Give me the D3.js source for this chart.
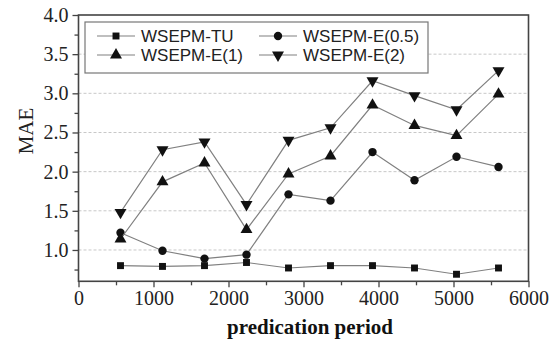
<!DOCTYPE html>
<html>
<head>
<meta charset="utf-8">
<script src="https://cdn.jsdelivr.net/npm/d3@7"></script>
<style>
  body { margin: 0; background: #fff; }
  svg { display: block; }
</style>
</head>
<body>
<div id="chart"></div>
<script>
// chart values
const periods = [560, 1120, 1680, 2240, 2800, 3360, 3920, 4480, 5040, 5600];
const tu     = [0.80, 0.79, 0.80, 0.84, 0.77, 0.80, 0.80, 0.77, 0.69, 0.77];
const e05    = [1.22, 0.99, 0.89, 0.94, 1.71, 1.63, 2.25, 1.89, 2.19, 2.06];
const e1     = [1.14, 1.87, 2.11, 1.26, 1.97, 2.20, 2.85, 2.59, 2.46, 2.99];
const e2     = [1.48, 2.28, 2.38, 1.58, 2.40, 2.56, 3.16, 2.97, 2.79, 3.29];
const seriesNames = ['WSEPM-TU', 'WSEPM-E(0.5)', 'WSEPM-E(1)', 'WSEPM-E(2)'];
const xTicks = [0, 1000, 2000, 3000, 4000, 5000, 6000];
const yTicks = [1.0, 1.5, 2.0, 2.5, 3.0, 3.5, 4.0];

const width = 557, height = 344;
const margin = {top: 15, right: 28.5, bottom: 62.7, left: 78.5};

const svg = d3.select('#chart').append('svg')
    .attr('width', width)
    .attr('height', height);

const x = d3.scaleLinear()
    .domain([0, 6000])
    .range([margin.left, width - margin.right]);

const y = d3.scaleLinear()
    .domain([0.6, 4.0])
    .range([height - margin.bottom, margin.top]);

const series = [
  {name: seriesNames[0], values: tu,  symbol: d3.symbolSquare,   size: 48, rot: 0},
  {name: seriesNames[1], values: e05, symbol: d3.symbolCircle,   size: 55, rot: 0},
  {name: seriesNames[2], values: e1,  symbol: d3.symbolTriangle, size: 62, rot: 0},
  {name: seriesNames[3], values: e2,  symbol: d3.symbolTriangle, size: 62, rot: 180}
];

// grid
svg.append('g')
    .attr('class', 'grid')
  .selectAll('line')
    .data(yTicks.filter(d => d < 4))
  .enter().append('line')
    .attr('x1', x(0))
    .attr('x2', x(6000))
    .attr('y1', d => y(d))
    .attr('y2', d => y(d))
    .attr('stroke', '#c8c8c8')
    .attr('stroke-width', 1)
    .attr('stroke-dasharray', '3,2');

// axes
const xAxis = d3.axisBottom(x).tickValues(xTicks).tickSize(6).tickPadding(4).tickFormat(d3.format('d'));
const xMinor = d3.axisBottom(x).tickValues([500, 1500, 2500, 3500, 4500, 5500]).tickSize(4).tickFormat('');
const yAxis = d3.axisLeft(y).tickValues(yTicks).tickSize(6).tickPadding(4).tickFormat(d3.format('.1f'));
const yMinor = d3.axisLeft(y).tickValues([0.75, 1.25, 1.75, 2.25, 2.75, 3.25, 3.75]).tickSize(4).tickFormat('');

svg.append('g').attr('transform', `translate(0,${y(0.6)})`).call(xAxis);
svg.append('g').attr('transform', `translate(0,${y(0.6)})`).call(xMinor);
svg.append('g').attr('transform', `translate(${x(0)},0)`).call(yAxis);
svg.append('g').attr('transform', `translate(${x(0)},0)`).call(yMinor);

svg.selectAll('.domain').remove();
svg.selectAll('.tick line').attr('stroke', '#444').attr('stroke-width', 1.3);
svg.selectAll('.tick text')
    .attr('fill', '#222')
    .style('font-family', '"Liberation Serif", "Times New Roman", serif')
    .style('font-size', '20px');

// frame
svg.append('rect')
    .attr('x', x(0))
    .attr('y', y(4.0))
    .attr('width', x(6000) - x(0))
    .attr('height', y(0.6) - y(4.0))
    .attr('fill', 'none')
    .attr('stroke', '#444')
    .attr('stroke-width', 1.6);

// lines and markers
const line = d3.line()
    .x((d, i) => x(periods[i]))
    .y(d => y(d));

series.forEach(s => {
  svg.append('path')
      .datum(s.values)
      .attr('d', line)
      .attr('fill', 'none')
      .attr('stroke', '#808080')
      .attr('stroke-width', 1.2);

  svg.append('g')
    .selectAll('path')
      .data(s.values)
    .enter().append('path')
      .attr('d', d3.symbol().type(s.symbol).size(s.size))
      .attr('transform', (d, i) => `translate(${x(periods[i])},${y(d)}) rotate(${s.rot})`)
      .attr('fill', '#111');
});

// legend
const legend = svg.append('g').attr('class', 'legend');
legend.append('rect')
    .attr('x', 85)
    .attr('y', 22)
    .attr('width', 343)
    .attr('height', 51)
    .attr('fill', '#fff')
    .attr('stroke', '#777')
    .attr('stroke-width', 1.2);

const legendPos = [[97, 36], [259, 36], [97, 55], [259, 55]];
series.forEach((s, i) => {
  const [lx, ly] = legendPos[i];
  const g = legend.append('g').attr('transform', `translate(${lx},${ly})`);
  g.append('line')
      .attr('x1', 0).attr('x2', 38)
      .attr('stroke', '#808080')
      .attr('stroke-width', 1.2);
  g.append('path')
      .attr('d', d3.symbol().type(s.symbol).size(s.size))
      .attr('transform', `translate(19,0) rotate(${s.rot})`)
      .attr('fill', '#111');
  g.append('text')
      .attr('x', 44)
      .attr('dy', '0.36em')
      .attr('fill', '#222')
      .style('font-family', '"Liberation Sans", Arial, sans-serif')
      .style('font-size', '17px')
      .text(s.name);
});

// axis titles
svg.append('text')
    .attr('x', 310)
    .attr('y', 334)
    .attr('text-anchor', 'middle')
    .attr('fill', '#111')
    .style('font-family', '"Liberation Serif", "Times New Roman", serif')
    .style('font-size', '21px')
    .style('font-weight', 'bold')
    .text('predication period');

svg.append('text')
    .attr('transform', 'translate(33,131) rotate(-90)')
    .attr('text-anchor', 'middle')
    .attr('fill', '#222')
    .style('font-family', '"Liberation Serif", "Times New Roman", serif')
    .style('font-size', '21px')
    .text('MAE');
</script>
</body>
</html>
